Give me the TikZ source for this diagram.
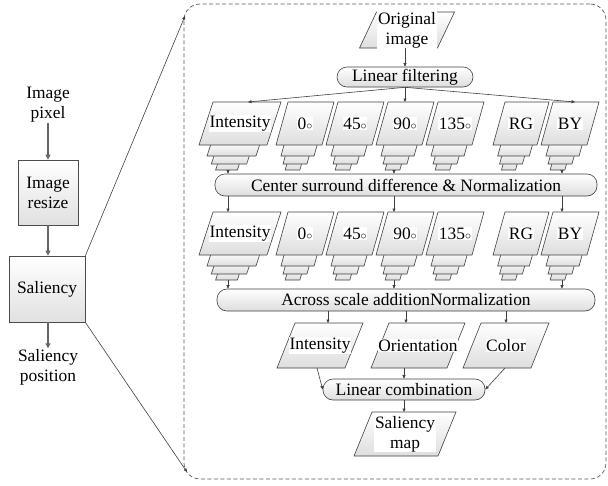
\documentclass[tikz,border=0pt]{standalone}
\usepackage{fontspec}
\setmainfont{Liberation Serif}
\newfontfamily\dfont{Liberation Serif}
\usetikzlibrary{arrows.meta}
\tikzset{
 platestyle/.style={draw=black!75, line width=0.6pt, top color=white, bottom color=black!13},
 lbl/.style={fill=white, inner sep=0.6pt, align=center, font=\dfont\fontsize{17.4}{20}\selectfont},
 rbox/.style={draw=black!75, line width=0.6pt, rounded corners=10pt, top color=white, bottom color=black!13, inner sep=0pt, font=\dfont\fontsize{17.4}{20}\selectfont},
 arr/.style={draw=black!75, line width=0.6pt, -{Triangle[length=3.5pt,width=3pt]}},
 lbox/.style={draw=black!70, line width=0.8pt, top color=white, bottom color=black!12, align=center, inner sep=0pt, font=\dfont\fontsize{17.4}{20}\selectfont},
 larr/.style={draw=black!60, line width=1.3pt, -{Triangle[length=5pt,width=5pt]}},
 panelstyle/.style={draw=black!65, dash pattern=on 4pt off 2.5pt, line width=0.7pt, rounded corners=16pt, inner sep=0pt},
}
\newcommand{\mydeg}{$\scriptstyle\circ$}
% #1 name, #2 cx, #3 cy, #4 W, #5 H, #6 skew, #7 text
\newcommand{\myplate}[7]{%
 \pgfmathsetmacro\mypxl{#2-#4/2}\pgfmathsetmacro\mypxr{#2+#4/2}%
 \pgfmathsetmacro\mypyt{#3-#5/2}\pgfmathsetmacro\mypyb{#3+#5/2}%
 \path[platestyle] (\mypxl+#6/2,\mypyt) -- (\mypxr+#6/2,\mypyt) -- (\mypxr-#6/2,\mypyb) -- (\mypxl-#6/2,\mypyb) -- cycle;
 \node[lbl] (#1) at (#2,#3) {#7};
}
% #1 cx, #2 cy, #3 W, #4 H, #5 skew
\newcommand{\mylayers}[5]{%
 \pgfmathsetmacro\myyb{#2+#4/2}%
 \pgfmathsetmacro\mycb{#1-#5/2}%
 \pgfmathsetmacro\myslope{#5/#4}%
 \foreach \d/\r/\sh in {25/0.32/6.5, 19/0.52/4, 11/0.72/1.5} {
   \path[platestyle] (\mycb-\sh-\r*#3/2, \myyb+\d) -- (\mycb-\sh+\r*#3/2, \myyb+\d)
     -- (\mycb-\sh+\r*#3/2+\myslope*14, \myyb+\d-14) -- (\mycb-\sh-\r*#3/2+\myslope*14, \myyb+\d-14) -- cycle;
 }
}
\begin{document}
\begin{tikzpicture}[x=1pt,y=-1pt]
\useasboundingbox (0,0) rectangle (608,485);
% left column
\node[lbl, fill=none] (ip) at (48,105) {Image\\pixel};
\node[lbox, minimum width=60pt, minimum height=65pt] (ir) at (48,192.5) {Image\\resize};
\node[lbox, minimum width=76pt, minimum height=66pt] (sal) at (47,289) {Saliency};
\node[lbl, fill=none] (sp) at (48,367) {Saliency\\position};
\draw[larr] (ip.south) -- (ip.south |- ir.north);
\draw[larr] (ir.south) -- (ir.south |- sal.north);
\draw[larr] (ir.south |- sal.south) -- (ir.south |- sp.north);
% panel
\node[panelstyle, minimum width=422pt, minimum height=475pt] (panel) at (395,241.5) {};
\coordinate (pa) at (185,16);
\coordinate (pb) at (187,472);
\draw[arr] (sal.north east) -- (pa);
\draw[arr] (sal.south east) -- (pb);
% top
\myplate{orig}{407}{30}{78}{36}{17}{Original\\image}
\node[rbox, minimum width=136pt, minimum height=20pt] (lf) at (405,77) {Linear filtering};
\coordinate (origb) at (405,48);
\draw[arr] (origb) -- (lf.north);
% row 1
\foreach \cx/\w/\nm/\t in {240/68/a1/Intensity, 305/46/b1/0\mydeg, 355/46/c1/45\mydeg, 405/46/d1/90\mydeg, 455/46/e1/135\mydeg, 521/44/f1/RG, 570/46/g1/BY}{
  \ifnum\w=68 \mylayers{\cx}{123.5}{\w}{43}{14}\myplate{\nm}{\cx}{123.5}{\w}{43}{14}{\t}
  \else \mylayers{\cx}{123.5}{\w}{43}{12}\myplate{\nm}{\cx}{123.5}{\w}{43}{12}{\t}\fi
}
\coordinate (t1) at (248,102);
\coordinate (t2) at (405,102);
\coordinate (t3) at (575,102);
\draw[arr] (lf.south) -- (t1);
\draw[arr] (lf.south) -- (t2);
\draw[arr] (lf.south) -- (t3);
\node[rbox, minimum width=382pt, minimum height=22pt] (cs) at (406,185) {Center surround difference \& Normalization};
% row 2
\foreach \cx/\w/\nm/\t in {240/68/a2/Intensity, 305/46/b2/0\mydeg, 355/46/c2/45\mydeg, 405/46/d2/90\mydeg, 455/46/e2/135\mydeg, 521/44/f2/RG, 570/46/g2/BY}{
  \ifnum\w=68 \mylayers{\cx}{233.5}{\w}{43}{14}\myplate{\nm}{\cx}{233.5}{\w}{43}{14}{\t}
  \else \mylayers{\cx}{233.5}{\w}{43}{12}\myplate{\nm}{\cx}{233.5}{\w}{43}{12}{\t}\fi
}
\node[rbox, minimum width=378pt, minimum height=22pt] (as) at (406,300) {Across scale additionNormalization};
\foreach \x in {228,394,562}{
  \coordinate (u\x) at (\x,170);
  \coordinate (v\x) at (\x,212);
  \coordinate (w\x) at (\x,280);
  \draw[arr] (u\x) -- (u\x |- cs.north);
  \draw[arr] (v\x |- cs.south) -- (v\x);
  \draw[arr] (w\x) -- (w\x |- as.north);
}
% bottom
\myplate{i3}{320}{345.5}{68}{45}{18}{Intensity}
\myplate{o3}{418}{345.5}{76}{45}{18}{Orientation}
\myplate{c3}{506}{345.5}{68}{45}{18}{Color}
\foreach \x in {328,406,506}{
  \coordinate (z\x) at (\x,323);
  \draw[arr] (z\x |- as.south) -- (z\x);
}
\node[rbox, minimum width=162pt, minimum height=21pt] (lc) at (404,389.5) {Linear combination};
\coordinate (i3b) at (317,368);
\coordinate (o3b) at (404,368);
\coordinate (c3b) at (505,368);
\draw[arr] (i3b) -- (lc.west);
\draw[arr] (o3b) -- (lc.north);
\draw[arr] (c3b) -- (lc.east);
\myplate{smap}{405}{434}{84}{44}{18}{Saliency\\map}
\coordinate (smt) at (404,412);
\draw[arr] (lc.south) -- (smt);
\end{tikzpicture}
\end{document}
